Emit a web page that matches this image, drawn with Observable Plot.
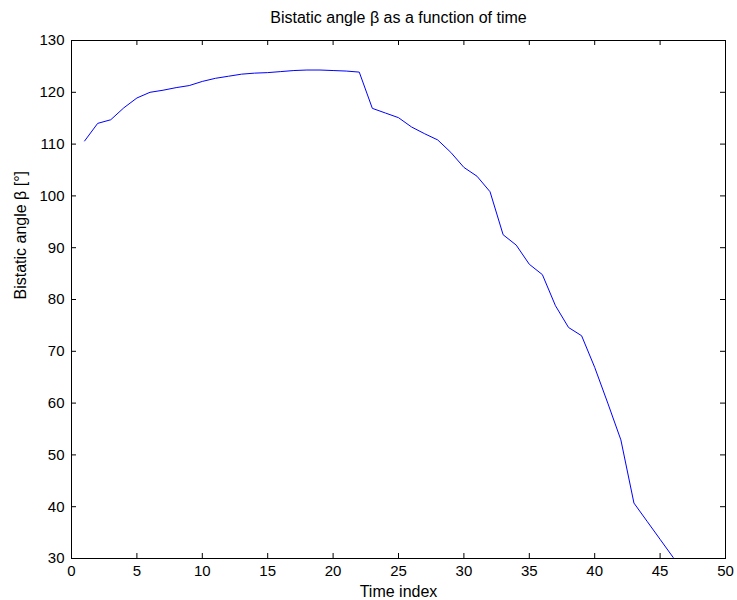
<!DOCTYPE html>
<html>
<head>
<meta charset="utf-8">
<script src="https://cdn.jsdelivr.net/npm/d3@7"></script>
<script src="https://cdn.jsdelivr.net/npm/@observablehq/plot@0.6"></script>
<style>
  html, body { margin: 0; padding: 0; background: #fff; }
</style>
</head>
<body>
<div id="chart"></div>
<script>
const timeIndex = [1,2,3,4,5,6,7,8,9,10,11,12,13,14,15,16,17,18,19,20,21,22,23,24,25,26,27,28,29,30,31,32,33,34,35,36,37,38,39,40,41,42,43,44,45,46];
const betaDeg = [110.6,114.0,114.7,117.0,118.9,120.0,120.4,120.9,121.3,122.1,122.7,123.1,123.5,123.7,123.8,124.0,124.2,124.3,124.3,124.2,124.1,123.9,116.9,116.0,115.1,113.3,112.0,110.8,108.4,105.5,103.8,100.8,92.5,90.5,86.8,84.8,78.8,74.6,73.0,66.9,60.0,52.9,40.7,37.2,33.7,30.2];
const xTicks = [0,5,10,15,20,25,30,35,40,45,50];
const yTicks = [30,40,50,60,70,80,90,100,110,120,130];
const titleText = "Bistatic angle β as a function of time";
const xLabel = "Time index";
const yLabel = "Bistatic angle β [°]";

const data = timeIndex.map((t, i) => ({t, b: betaDeg[i]}));

const W = 737, H = 600;
const mL = 71, mR = 12, mT = 40, mB = 42;
const innerW = W - mL - mR, innerH = H - mT - mB;
const tk = 5;

const chart = Plot.plot({
  width: W,
  height: H,
  marginLeft: mL,
  marginRight: mR,
  marginTop: mT,
  marginBottom: mB,
  style: {fontFamily: "'Liberation Sans', Arial, Helvetica, sans-serif", fontSize: "15px", color: "#000", background: "#fff"},
  x: {domain: [0, 50], ticks: xTicks},
  y: {domain: [30, 130], ticks: yTicks},
  marks: [
    Plot.line(data, {x: "t", y: "b", stroke: "#0000ff", strokeWidth: 1}),
    Plot.tickX(xTicks, {x: d => d, stroke: "#000", insetTop: innerH - tk}),
    Plot.tickX(xTicks, {x: d => d, stroke: "#000", insetBottom: innerH - tk}),
    Plot.tickY(yTicks, {y: d => d, stroke: "#000", insetRight: innerW - tk}),
    Plot.tickY(yTicks, {y: d => d, stroke: "#000", insetLeft: innerW - tk}),
    Plot.frame({stroke: "#000", strokeWidth: 1}),
    Plot.axisX(xTicks, {tickSize: 0, tickPadding: 7, fontSize: 15, label: null}),
    Plot.axisY(yTicks, {tickSize: 0, tickPadding: 7, fontSize: 15, label: null}),
    Plot.text([xLabel], {frameAnchor: "bottom", lineAnchor: "middle", dy: 33, fontSize: 16, fill: "#000"}),
    Plot.text([yLabel], {frameAnchor: "left", dx: -51, rotate: -90, fontSize: 16, fill: "#000"}),
    Plot.text([titleText], {frameAnchor: "top", lineAnchor: "middle", dy: -23, fontSize: 16, fill: "#000"})
  ]
});
document.getElementById("chart").appendChild(chart);
</script>
</body>
</html>
